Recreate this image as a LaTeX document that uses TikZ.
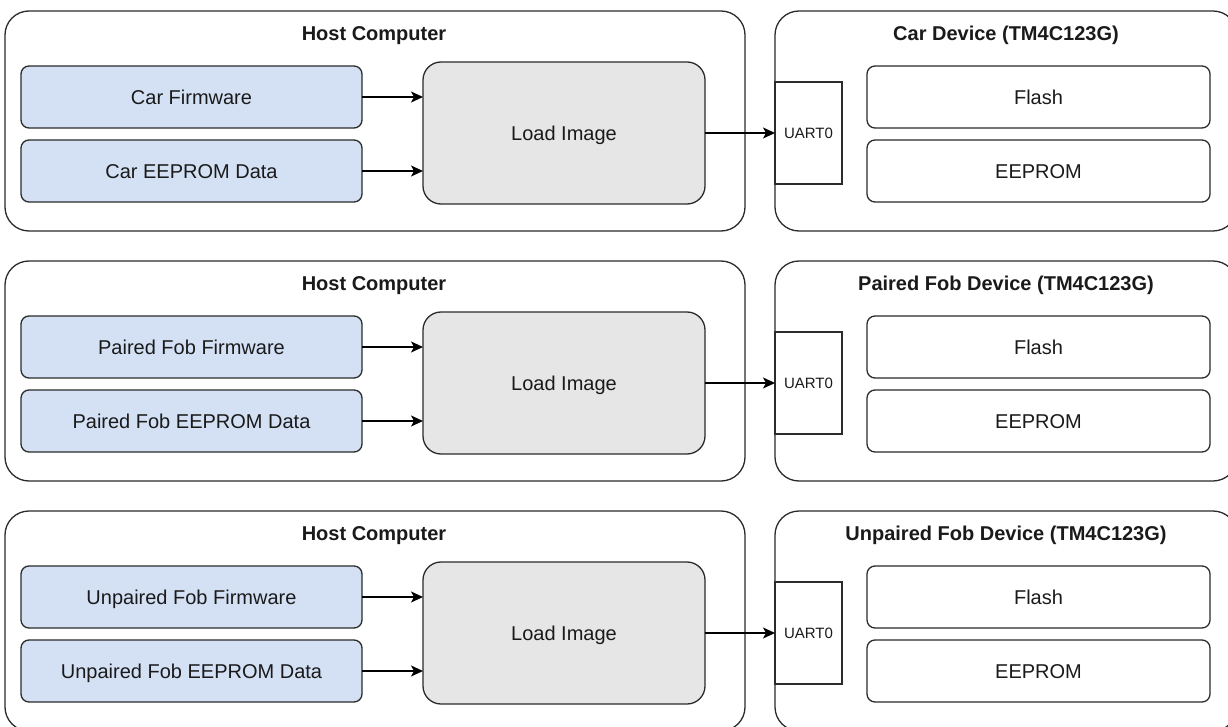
\documentclass[tikz,border=0pt]{standalone}
\usepackage{fontspec}
\setmainfont{Liberation Sans}
\usetikzlibrary{arrows.meta}
\definecolor{inkline}{HTML}{2B2B2B}
\definecolor{srcfill}{HTML}{D4E1F5}
\definecolor{loadfill}{HTML}{E6E6E6}
\definecolor{txt}{HTML}{1A1A1A}

\begin{document}
\begin{tikzpicture}[x=1pt,y=-1pt,
  box/.style={draw=inkline, line width=1.3pt, inner sep=0pt, outer sep=0pt,
    text=txt, font=\fontsize{20}{24}\selectfont, text height=14.3pt, text depth=0pt},
  frame/.style={box, rounded corners=24pt},
  title/.style={inner sep=0pt, text=txt, font=\fontsize{20}{24}\selectfont\bfseries,
    text height=14.3pt, text depth=0pt},
  srcbox/.style={box, fill=srcfill, rounded corners=8pt, minimum width=341pt, minimum height=62pt},
  loadbox/.style={box, fill=loadfill, rounded corners=18pt, minimum width=282pt, minimum height=142pt},
  portbox/.style={box, fill=white, minimum width=67pt, minimum height=102pt,
    font=\fontsize{15}{18}\selectfont, text height=10.7pt},
  membox/.style={box, fill=white, rounded corners=8pt, minimum width=343pt, minimum height=62pt},
  arr/.style={draw=black, line width=1.3pt, -{Stealth[length=12pt,width=11pt,inset=3pt]}}
]
\useasboundingbox (0,0) rectangle (1228,727);
\clip (0,0) rectangle (1228,727);
\fill[white] (0,0) rectangle (1228,727);

\foreach \r/\fwtext/\eetext/\devtext [count=\i] in {
    0/Car Firmware/Car EEPROM Data/Car Device (TM4C123G),
    250/Paired Fob Firmware/Paired Fob EEPROM Data/Paired Fob Device (TM4C123G),
    500/Unpaired Fob Firmware/Unpaired Fob EEPROM Data/Unpaired Fob Device (TM4C123G)}{
  % host side
  \node[frame, minimum width=740pt, minimum height=220pt] (host\i) at (375,{121+\r}) {};
  \node[title] (hosttitle\i) at (374,{33+\r}) {Host Computer};
  \node[srcbox] (fw\i) at (191.5,{97+\r}) {\fwtext};
  \node[srcbox] (ee\i) at (191.5,{171+\r}) {\eetext};
  \node[loadbox] (load\i) at (564,{133+\r}) {Load Image};
  % device side
  \node[frame, minimum width=462pt, minimum height=220pt] (dev\i) at (1006,{121+\r}) {};
  \node[title] (devtitle\i) at (1006,{33+\r}) {\devtext};
  \node[portbox] (uart\i) at (808.5,{133+\r}) {UART0};
  \node[membox] (flash\i) at (1038.5,{97+\r}) {Flash};
  \node[membox] (eeprom\i) at (1038.5,{171+\r}) {EEPROM};
  % connectors
  \draw[arr] (fw\i.east) -- (load\i.west |- fw\i.east);
  \draw[arr] (ee\i.east) -- (load\i.west |- ee\i.east);
  \draw[arr] (load\i.east) -- (uart\i.west);
}
\end{tikzpicture}
\end{document}
